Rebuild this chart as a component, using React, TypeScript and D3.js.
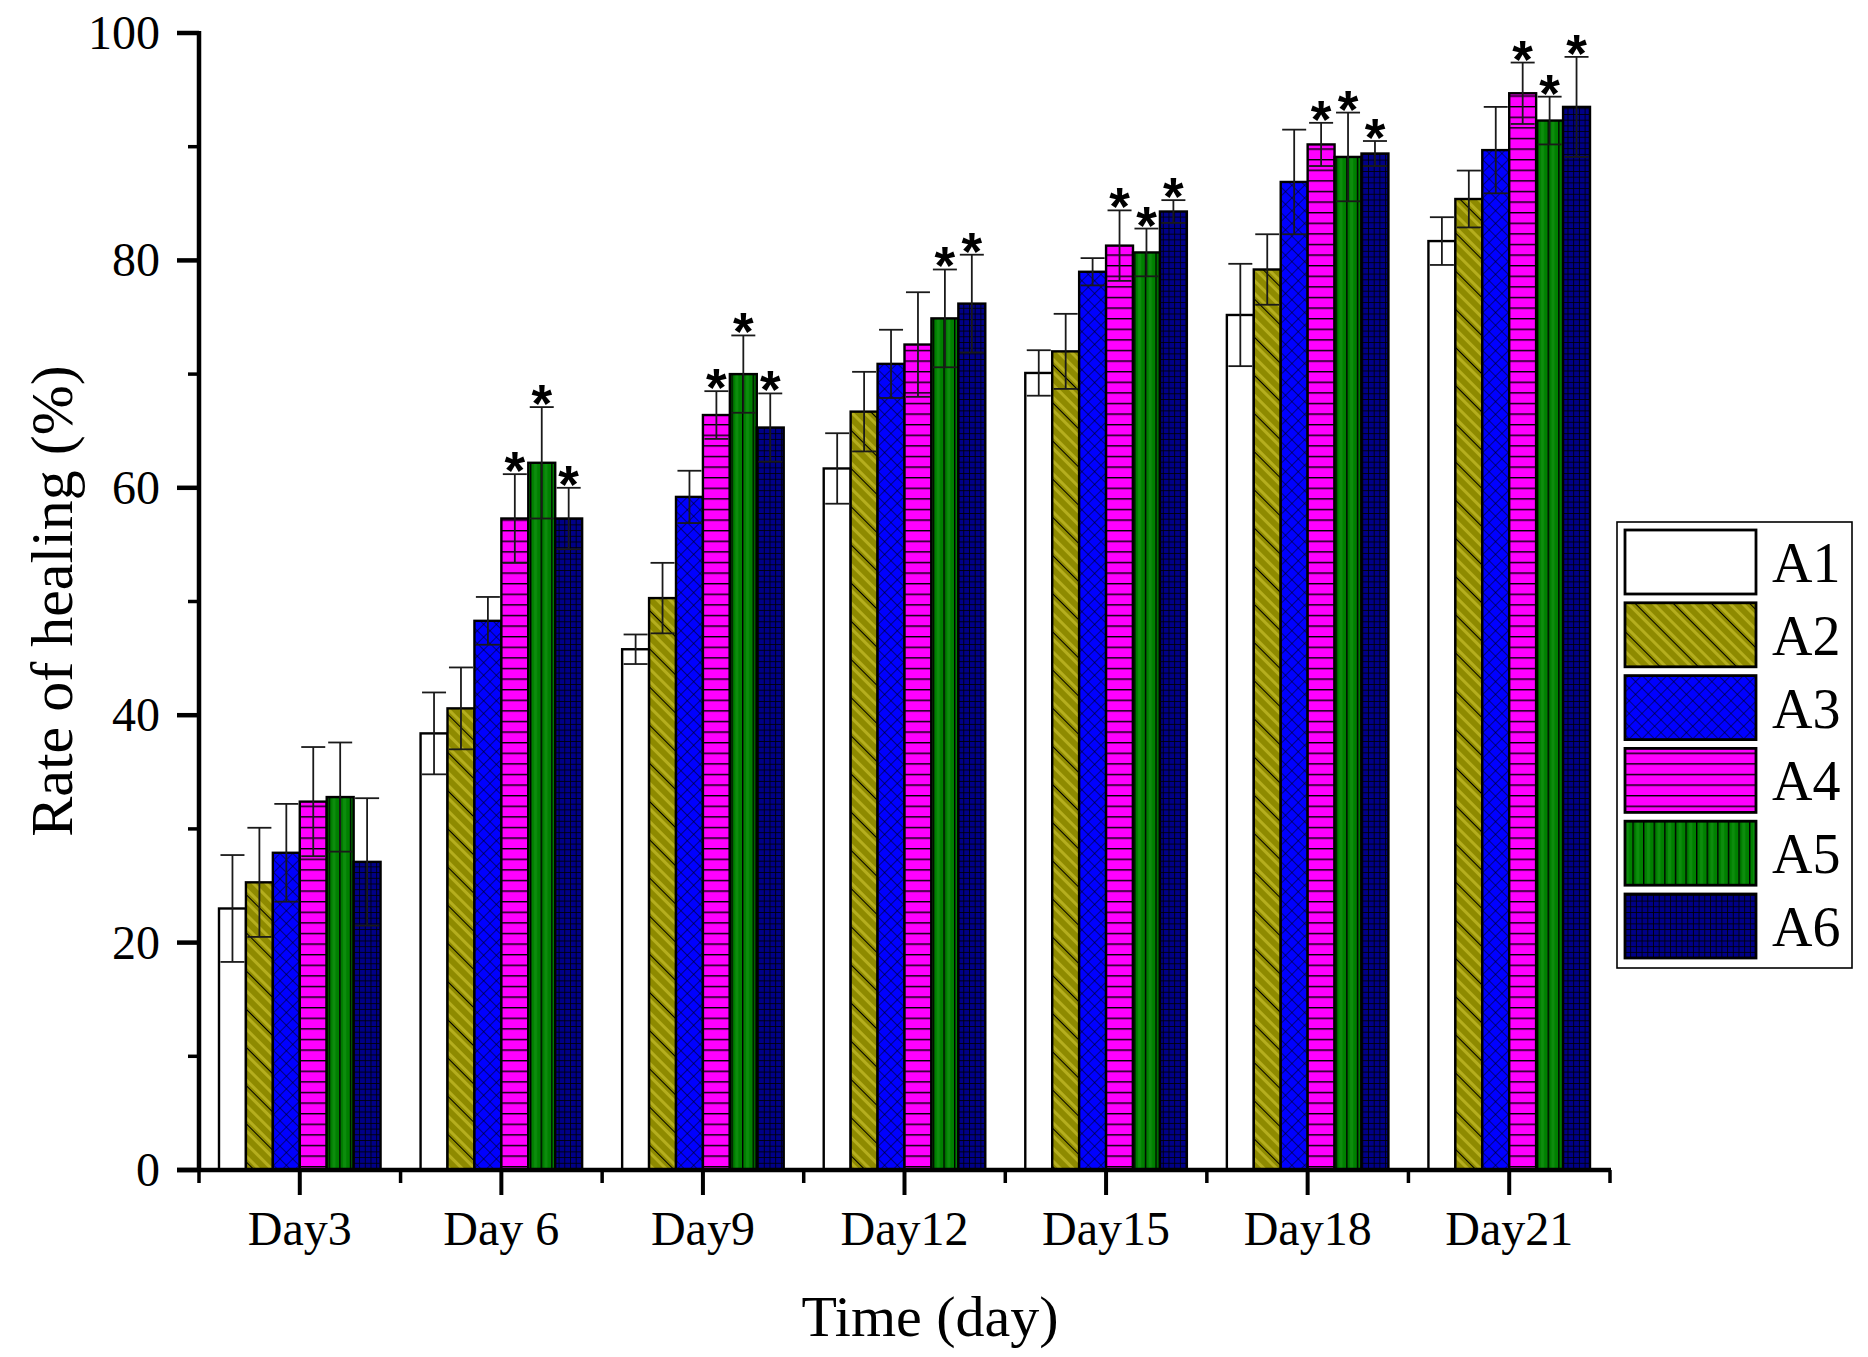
import * as d3 from "d3";

const days = ["Day3", "Day 6", "Day9", "Day12", "Day15", "Day18", "Day21"];
const groups = ["A1", "A2", "A3", "A4", "A5", "A6"];

// mean healing rate (%) per group, one entry per day
const a1 = [23.0, 38.4, 45.8, 61.7, 70.1, 75.2, 81.7];
const a2 = [25.3, 40.6, 50.3, 66.7, 72.0, 79.2, 85.4];
const a3 = [27.9, 48.3, 59.2, 70.9, 79.0, 86.9, 89.7];
const a4 = [32.4, 57.3, 66.4, 72.6, 81.3, 90.2, 94.7];
const a5 = [32.8, 62.2, 70.0, 74.9, 80.7, 89.1, 92.3];
const a6 = [27.1, 57.3, 65.3, 76.2, 84.3, 89.4, 93.5];

// standard deviations
const e1 = [4.7, 3.6, 1.3, 3.1, 2.0, 4.5, 2.1];
const e2 = [4.8, 3.6, 3.1, 3.5, 3.3, 3.1, 2.5];
const e3 = [4.3, 2.1, 2.3, 3.0, 1.2, 4.6, 3.8];
const e4 = [4.8, 3.9, 2.1, 4.6, 3.1, 1.9, 2.7];
const e5 = [4.8, 4.9, 3.4, 4.3, 2.1, 3.9, 2.1];
const e6 = [5.6, 2.7, 3.0, 4.3, 1.0, 1.1, 4.4];

// significance markers
const s1 = ["", "", "", "", "", "", ""];
const s2 = ["", "", "", "", "", "", ""];
const s3 = ["", "", "", "", "", "", ""];
const s4 = ["", "*", "*", "", "*", "*", "*"];
const s5 = ["", "*", "*", "*", "*", "*", "*"];
const s6 = ["", "*", "*", "*", "*", "*", "*"];

const yTicks = [0, 20, 40, 60, 80, 100];
const yMinor = [10, 30, 50, 70, 90];

const values = [a1, a2, a3, a4, a5, a6];
const errors = [e1, e2, e3, e4, e5, e6];
const stars = [s1, s2, s3, s4, s5, s6];
const fills = ["#ffffff", "url(#pA2)", "url(#pA3)", "url(#pA4)", "url(#pA5)", "url(#pA6)"];

const W = 1868;
const H = 1357;
const left = 199;
const right = 1610;
const top = 33;
const bottom = 1170;

const serif = "'Liberation Serif', 'Times New Roman', serif";

const Patterns = () => (
  <defs>
    <pattern id="pA2" width="27" height="10" patternUnits="userSpaceOnUse" patternTransform="rotate(-45)">
      <rect width="27" height="10" fill="#8e8a00" />
      <rect x="3" width="3" height="10" fill="#b5ae1e" />
      <rect x="12" width="3" height="10" fill="#b5ae1e" />
      <rect x="21" width="3" height="10" fill="#b5ae1e" />
      <line x1="0.5" y1="0" x2="0.5" y2="10" stroke="#000" strokeWidth="1" />
    </pattern>
    <pattern id="pA3" width="9" height="9" patternUnits="userSpaceOnUse" patternTransform="rotate(45)">
      <rect width="9" height="9" fill="#0000ff" />
      <path d="M0,0 L9,0 M0,0 L0,9" stroke="#000" strokeWidth="1" />
    </pattern>
    <pattern id="pA4" width="10" height="10.6" patternUnits="userSpaceOnUse">
      <rect width="10" height="10.6" fill="#ff00ff" />
      <line x1="0" y1="0.7" x2="10" y2="0.7" stroke="#000" strokeWidth="1.4" />
    </pattern>
    <pattern id="pA5" width="10.6" height="10" patternUnits="userSpaceOnUse">
      <rect width="10.6" height="10" fill="#008000" />
      <rect x="4" width="3" height="10" fill="#0d8d0d" />
      <line x1="0.7" y1="0" x2="0.7" y2="10" stroke="#000" strokeWidth="1.4" />
    </pattern>
    <pattern id="pA6" width="5.7" height="5.7" patternUnits="userSpaceOnUse">
      <rect width="5.7" height="5.7" fill="#000088" />
      <path d="M0,0.4 L5.7,0.4 M0.4,0 L0.4,5.7" stroke="#000" strokeWidth="0.9" />
    </pattern>
  </defs>
);

const App = () => {
  const x = d3.scaleBand().domain(days).range([left, right]).padding(0);
  const xInner = d3
    .scaleBand()
    .domain(groups)
    .range([20, x.bandwidth() - 20])
    .padding(0);
  const y = d3.scaleLinear().domain([0, 100]).range([bottom, top]);
  const bw = xInner.bandwidth();
  const capW = 24;
  const boundaries = days.map((d) => x(d) as number).concat([right]);

  return (
    <svg
      width={W}
      height={H}
      style={{ position: "absolute", left: 0, top: 0, background: "#fff" }}
    >
      <Patterns />
      <rect width={W} height={H} fill="#fff" />

      {/* bars */}
      {groups.map((g, gi) =>
        days.map((d, di) => {
          const bx = (x(d) as number) + (xInner(g) as number);
          const by = y(values[gi][di]);
          return (
            <rect
              key={`b-${g}-${d}`}
              x={bx}
              y={by}
              width={bw}
              height={bottom - by}
              fill={fills[gi]}
              stroke="#000"
              strokeWidth={2.4}
            />
          );
        })
      )}

      {/* error bars and markers */}
      {groups.map((g, gi) =>
        days.map((d, di) => {
          const cx = (x(d) as number) + (xInner(g) as number) + bw / 2;
          const v = values[gi][di];
          const e = errors[gi][di];
          const yHi = y(v + e);
          const yLo = y(v - e);
          return (
            <g key={`e-${g}-${d}`} stroke="#1a1a1a" strokeWidth={1.8}>
              <line x1={cx} x2={cx} y1={yHi} y2={yLo} />
              <line x1={cx - capW / 2} x2={cx + capW / 2} y1={yHi} y2={yHi} />
              <line x1={cx - capW / 2} x2={cx + capW / 2} y1={yLo} y2={yLo} />
              {stars[gi][di] && (
                <text
                  x={cx}
                  y={yHi + 15}
                  textAnchor="middle"
                  fontFamily="'Liberation Sans', Arial, sans-serif"
                  fontWeight="bold"
                  fontSize={53}
                  fill="#000"
                  stroke="none"
                >
                  {stars[gi][di]}
                </text>
              )}
            </g>
          );
        })
      )}

      {/* y axis */}
      <g>
        <line x1={left} x2={left} y1={top - 2} y2={bottom + 2} stroke="#000" strokeWidth={4.5} />
        {yTicks.map((t) => (
          <g key={`yt-${t}`}>
            <line x1={left - 22} x2={left} y1={y(t)} y2={y(t)} stroke="#000" strokeWidth={4.5} />
            <text
              x={160}
              y={y(t) + 16}
              textAnchor="end"
              fontFamily={serif}
              fontSize={48}
              fill="#000"
            >
              {t}
            </text>
          </g>
        ))}
        {yMinor.map((t) => (
          <line key={`ym-${t}`} x1={left - 11} x2={left} y1={y(t)} y2={y(t)} stroke="#000" strokeWidth={3.5} />
        ))}
      </g>

      {/* x axis */}
      <g>
        <line x1={left - 22} x2={right + 1} y1={bottom} y2={bottom} stroke="#000" strokeWidth={4.5} />
        {boundaries.map((b, i) => (
          <line key={`xm-${i}`} x1={b} x2={b} y1={bottom} y2={bottom + 13} stroke="#000" strokeWidth={3.5} />
        ))}
        {days.map((d) => {
          const cx = (x(d) as number) + x.bandwidth() / 2;
          return (
            <g key={`xt-${d}`}>
              <line x1={cx} x2={cx} y1={bottom} y2={bottom + 25} stroke="#000" strokeWidth={4} />
              <text
                x={cx}
                y={1245}
                textAnchor="middle"
                fontFamily={serif}
                fontSize={48}
                fill="#000"
              >
                {d}
              </text>
            </g>
          );
        })}
      </g>

      {/* axis titles */}
      <text
        x={930}
        y={1336}
        textAnchor="middle"
        fontFamily={serif}
        fontSize={58}
        fill="#000"
      >
        Time (day)
      </text>
      <text
        transform={`translate(72, 601) rotate(-90)`}
        textAnchor="middle"
        fontFamily={serif}
        fontSize={60}
        fill="#000"
      >
        Rate of healing (%)
      </text>

      {/* legend */}
      <g>
        <rect x={1617} y={522} width={235} height={446} fill="#fff" stroke="#000" strokeWidth={1.6} />
        {groups.map((g, gi) => {
          const sy = 530 + gi * 72.8;
          return (
            <g key={`lg-${g}`}>
              <rect x={1625} y={sy} width={131} height={64} fill={fills[gi]} stroke="#000" strokeWidth={2.8} />
              <text x={1772} y={sy + 52} fontFamily={serif} fontSize={56} fill="#000">
                {g}
              </text>
            </g>
          );
        })}
      </g>
    </svg>
  );
};

export default App;
